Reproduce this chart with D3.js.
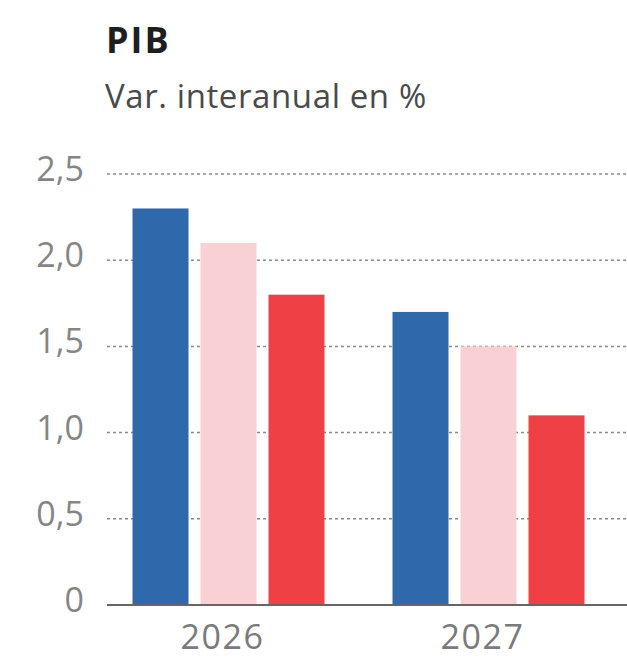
<!DOCTYPE html>
<html>
<head>
<meta charset="utf-8">
<script src="https://cdn.jsdelivr.net/npm/d3@7"></script>
<style>
  body { margin: 0; background: #fff; }
  svg text { font-family: "Open Sans", "Noto Sans", sans-serif; }
</style>
</head>
<body>
<div id="chart"></div>
<script>
// data
var years = ["2026", "2027"];
var series = ["s1", "s2", "s3"];
var values2026 = [2.3, 2.1, 1.8];
var values2027 = [1.7, 1.5, 1.1];
var yTicks = [0, 0.5, 1, 1.5, 2, 2.5];
var colors = ["#2f68ab", "#f9d0d3", "#ef4145"];

var W = 627, H = 660;
var svg = d3.select("#chart").append("svg")
  .attr("width", W)
  .attr("height", H);

// titles
svg.append("text")
  .attr("x", 106).attr("y", 53)
  .style("font-size", "36px").style("font-weight", "700")
  .style("letter-spacing", "2px")
  .attr("fill", "#1e1e1e")
  .text("PIB");
svg.append("text")
  .attr("x", 105).attr("y", 108)
  .style("font-size", "33px")
  .style("letter-spacing", "0.6px")
  .attr("fill", "#4a4a4a")
  .text("Var. interanual en %");

//scales
var y = d3.scaleLinear().domain([0, 2.5]).range([605, 174]);
var x0 = d3.scaleBand().domain(years).range([98.5, 618.5]).padding(0);
var x1 = d3.scaleBand().domain(series).range([34, 226]).paddingInner(12 / 68).paddingOuter(0);

// grid lines (dotted)
svg.append("g").selectAll("line")
  .data(yTicks.filter(d => d > 0))
  .join("line")
  .attr("x1", 107).attr("x2", W)
  .attr("y1", d => y(d)).attr("y2", d => y(d))
  .attr("stroke", "#8a8a8a")
  .attr("stroke-width", 1.5)
  .attr("stroke-dasharray", "3,3");

// y labels
var fmt = d => d3.format(".1f")(d).replace(".", ",");
svg.append("g").selectAll("text")
  .data(yTicks)
  .join("text")
  .attr("x", 84)
  .attr("y", d => y(d) + 7)
  .attr("text-anchor", "end")
  .style("font-size", "34px")
  .attr("fill", "#858585")
  .text(d => d === 0 ? "0" : fmt(d));

// bars
var rows = years.map((yr, i) => ({ year: yr, vals: i === 0 ? values2026 : values2027 }));
var groups = svg.append("g").selectAll("g")
  .data(rows)
  .join("g")
  .attr("transform", d => "translate(" + x0(d.year) + ",0)");

groups.selectAll("rect")
  .data(d => d.vals.map((v, j) => ({ key: series[j], v: v, c: colors[j] })))
  .join("rect")
  .attr("x", d => x1(d.key))
  .attr("width", x1.bandwidth())
  .attr("y", d => y(d.v))
  .attr("height", d => y(0) - y(d.v))
  .attr("fill", d => d.c);

// baseline
svg.append("line")
  .attr("x1", 107).attr("x2", W)
  .attr("y1", y(0)).attr("y2", y(0))
  .attr("stroke", "#666")
  .attr("stroke-width", 2);

// x labels
svg.append("g").selectAll("text")
  .data(years)
  .join("text")
  .attr("x", d => x0(d) + x0.bandwidth() / 2 - 6)
  .attr("y", 649)
  .attr("text-anchor", "middle")
  .style("font-size", "34px")
  .style("letter-spacing", "1.5px")
  .attr("fill", "#7a7a7a")
  .text(d => d);
</script>
</body>
</html>
